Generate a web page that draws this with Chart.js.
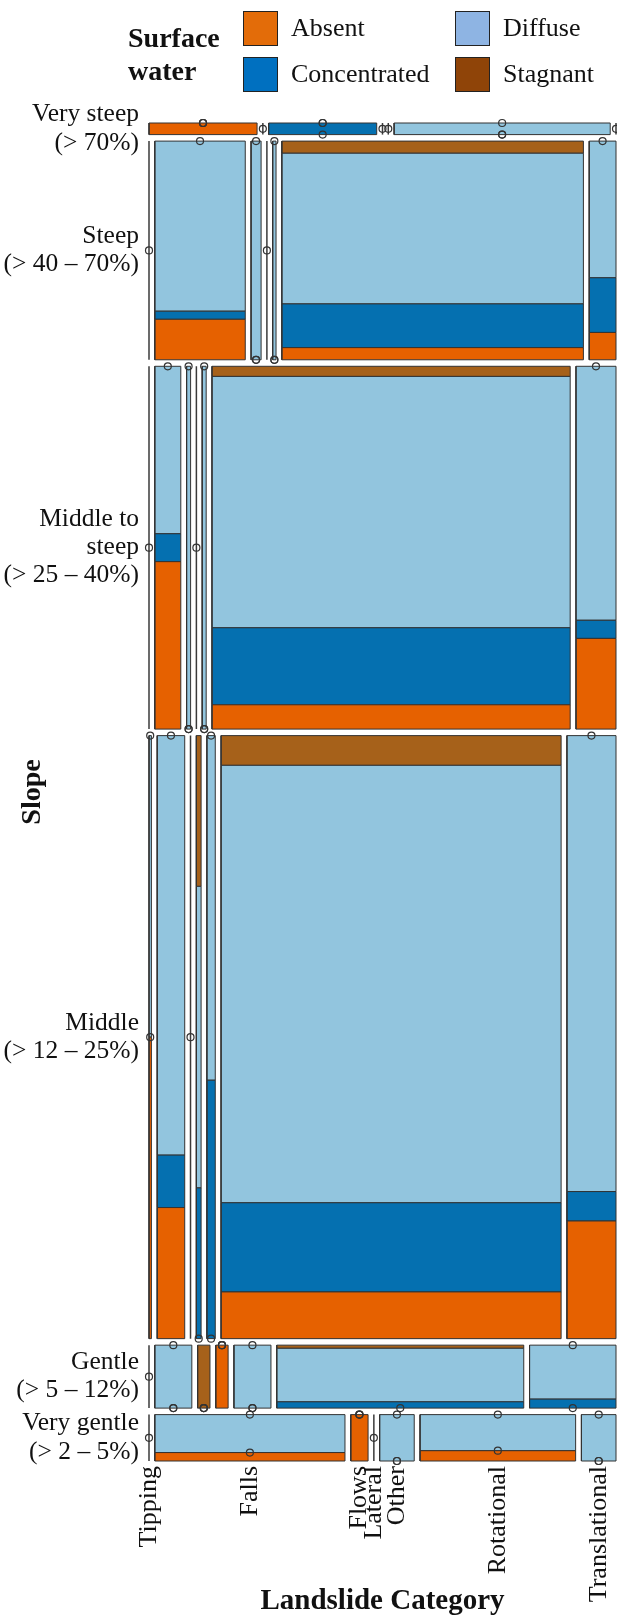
<!DOCTYPE html>
<html>
<head>
<meta charset="utf-8">
<script src="https://cdn.jsdelivr.net/npm/chart.js@4.4.1/dist/chart.umd.min.js"></script>
<style>
    body { margin: 0; background: #fff; }
    #wrap { position: relative; width: 617px; height: 1616px; font-family: "Liberation Serif", serif; color: #111; }
    #mosaic { position: absolute; left: 0; top: 0; }
    .legend-title { position: absolute; left: 128px; top: 21px; font-weight: bold; font-size: 28px; line-height: 33px; }
    .swatch { position: absolute; width: 33px; height: 33px; border: 1px solid #222; }
    .legend-label { position: absolute; font-size: 26px; line-height: 30px; }
</style>
</head>
<body>
<div id="wrap">
    <canvas id="mosaic" width="617" height="1616"></canvas>
    <div class="legend-title">Surface<br>water</div>
    <div id="legend"></div>
</div>
<script>
// Category names
const slopeLabels = [
    ['Very steep', '(> 70%)'],
    ['Steep', '(> 40 – 70%)'],
    ['Middle to', 'steep', '(> 25 – 40%)'],
    ['Middle', '(> 12 – 25%)'],
    ['Gentle', '(> 5 – 12%)'],
    ['Very gentle', '(> 2 – 5%)']
];
const landslideCategories = ['Tipping', 'Falls', 'Flows', 'Lateral', 'Other', 'Rotational', 'Translational'];
const surfaceWater = ['Absent', 'Concentrated', 'Diffuse', 'Stagnant'];

// Counts per landslide category, each as [Absent, Concentrated, Diffuse, Stagnant]
const veryStep = [[1, 0, 0, 0], [0, 0, 0, 0], [0, 1, 0, 0], [0, 0, 0, 0], [0, 0, 0, 0], [0, 0, 2, 0], [0, 0, 0, 0]];
const steep = [[0, 0, 0, 0], [5, 1, 21, 0], [0, 0, 3, 0], [0, 0, 0, 0], [0, 0, 1, 0], [5, 18, 62, 5], [1, 2, 5, 0]];
const middleToSteep = [[0, 0, 0, 0], [6, 1, 6, 0], [0, 0, 2, 0], [0, 0, 0, 0], [0, 0, 2, 0], [12, 38, 124, 5], [5, 1, 14, 0]];
const middle = [[1, 0, 1, 0], [5, 2, 16, 0], [0, 0, 0, 0], [0, 1, 2, 1], [0, 3, 4, 0], [22, 42, 206, 14], [8, 2, 31, 0]];
const gentle = [[0, 0, 0, 0], [0, 0, 3, 0], [0, 0, 0, 1], [1, 0, 0, 0], [0, 0, 3, 0], [0, 2, 17, 1], [0, 1, 6, 0]];
const veryGentle = [[0, 0, 0, 0], [2, 0, 9, 0], [1, 0, 0, 0], [0, 0, 0, 0], [0, 0, 2, 0], [2, 0, 7, 0], [0, 0, 2, 0]];
const slopeCounts = [veryStep, steep, middleToSteep, middle, gentle, veryGentle];

// Colours
const waterColors = ['#E66100', '#0570B0', '#92C5DE', '#A6611A'];
const legendColors = ['#E36C09', '#0070C0', '#8EB4E3', '#8F4408'];

const FONT = '"Liberation Serif", serif';
const GAP_X = 0.0124;
const GAP_Y = 0.00486;
const ROW_EXTRA = 3; // small rows get a little extra height, like the original

const sum = arr => arr.reduce((a, b) => a + b, 0);

// Build the mosaic layout in unit coordinates (0..1 on both axes)
const rowTotals = slopeCounts.map(row => sum(row.map(sum)));
const rowWeights = rowTotals.map(n => n + ROW_EXTRA);
const weightTotal = sum(rowWeights);
const usableY = 1 - GAP_Y * (slopeCounts.length - 1);
let yTop = 1;
const rows = slopeCounts.map((row, r) => {
    const h = rowWeights[r] / weightTotal * usableY;
    const y1 = yTop, y0 = yTop - h;
    yTop = y0 - GAP_Y;
    const usableX = 1 - GAP_X * (row.length - 1);
    let x = 0;
    const cells = row.map(counts => {
        const n = sum(counts);
        const w = n / rowTotals[r] * usableX;
        const cell = { x0: x, x1: x + w, counts: counts, n: n };
        x += w + GAP_X;
        return cell;
    });
    return { y0: y0, y1: y1, cells: cells };
});

// Datasets: rectangles, zero-count lines and zero-count markers
const rectSets = [];
const zeroLineSets = [];
const zeroMarks = [];
rows.forEach(row => {
    row.cells.forEach(cell => {
        if (cell.n === 0) {
            zeroLineSets.push({
                data: [{ x: cell.x0, y: row.y0 }, { x: cell.x0, y: row.y1 }],
                borderColor: '#3a3a3a', borderWidth: 1.5, fill: false,
                pointRadius: 0, order: 1, clip: false
            });
            zeroMarks.push({ x: cell.x0, y: (row.y0 + row.y1) / 2 });
            return;
        }
        const xm = (cell.x0 + cell.x1) / 2;
        let y = row.y0;
        cell.counts.forEach((v, k) => {
            if (v === 0) {
                zeroMarks.push({ x: xm, y: y });
                return;
            }
            const h = v / cell.n * (row.y1 - row.y0);
            rectSets.push({
                data: [
                    { x: cell.x0, y: y }, { x: cell.x1, y: y },
                    { x: cell.x1, y: y + h }, { x: cell.x0, y: y + h },
                    { x: cell.x0, y: y }
                ],
                backgroundColor: waterColors[k],
                borderColor: '#333333', borderWidth: 1,
                fill: 'shape', pointRadius: 0, tension: 0,
                borderJoinStyle: 'miter', order: 2, clip: false
            });
            y += h;
        });
    });
});

const markerSet = {
    data: zeroMarks, showLine: false, pointStyle: 'circle', pointRadius: 3.5,
    pointBackgroundColor: 'rgba(0,0,0,0)', pointBorderColor: '#333333',
    pointBorderWidth: 1.2, order: 0, clip: false
};

// Tick positions: row centres for slope, bottom row cells for landslide category
const yTickValues = rows.map(row => (row.y0 + row.y1) / 2);
const bottomRow = rows[rows.length - 1];
const xTickValues = bottomRow.cells.map(c => (c.x0 + c.x1) / 2);

new Chart(document.getElementById('mosaic'), {
    type: 'line',
    data: { datasets: [markerSet, ...zeroLineSets, ...rectSets] },
    options: {
        responsive: false,
        animation: false,
        devicePixelRatio: 1,
        events: [],
        layout: { autoPadding: false, padding: { top: 123, left: 0, right: 1, bottom: 0 } },
        plugins: { legend: { display: false }, tooltip: { enabled: false } },
        scales: {
            x: {
                type: 'linear', min: 0, max: 1,
                grid: { display: false, drawTicks: false },
                border: { display: false },
                afterBuildTicks: axis => { axis.ticks = xTickValues.map(v => ({ value: v })); },
                afterFit: axis => { axis.height = 155; axis.paddingLeft = 0; axis.paddingRight = 0; },
                ticks: {
                    autoSkip: false, minRotation: 90, maxRotation: 90, padding: 5,
                    color: '#111', font: { family: FONT, size: 26 },
                    callback: (v, i) => landslideCategories[i]
                },
                title: {
                    display: true, text: 'Landslide Category', color: '#111',
                    font: { family: FONT, size: 29, weight: 'bold', lineHeight: 1 },
                    padding: { top: 0, bottom: 0 }
                }
            },
            y: {
                type: 'linear', min: 0, max: 1,
                grid: { display: false, drawTicks: false },
                border: { display: false },
                afterBuildTicks: axis => { axis.ticks = yTickValues.map(v => ({ value: v })); },
                afterFit: axis => { axis.width = 149; axis.paddingTop = 0; axis.paddingBottom = 0; },
                ticks: {
                    autoSkip: false, padding: 10,
                    color: '#111', font: { family: FONT, size: 25.5, lineHeight: 1.1 },
                    callback: (v, i) => slopeLabels[i]
                },
                title: {
                    display: true, text: 'Slope', color: '#111',
                    font: { family: FONT, size: 28, weight: 'bold', lineHeight: 1.2 },
                    padding: { top: 16, bottom: 0 }
                }
            }
        }
    }
});

// Legend in two columns
const legend = document.getElementById('legend');
const legendCols = [243, 455];
const legendRows = [11, 57];
surfaceWater.forEach((name, i) => {
    const left = legendCols[Math.floor(i / 2)];
    const top = legendRows[i % 2];
    legend.insertAdjacentHTML('beforeend',
        `<div class="swatch" style="left:${left}px;top:${top}px;background:${legendColors[i]}"></div>` +
        `<div class="legend-label" style="left:${left + 48}px;top:${top + 2}px">${name}</div>`);
});
</script>
</body>
</html>
